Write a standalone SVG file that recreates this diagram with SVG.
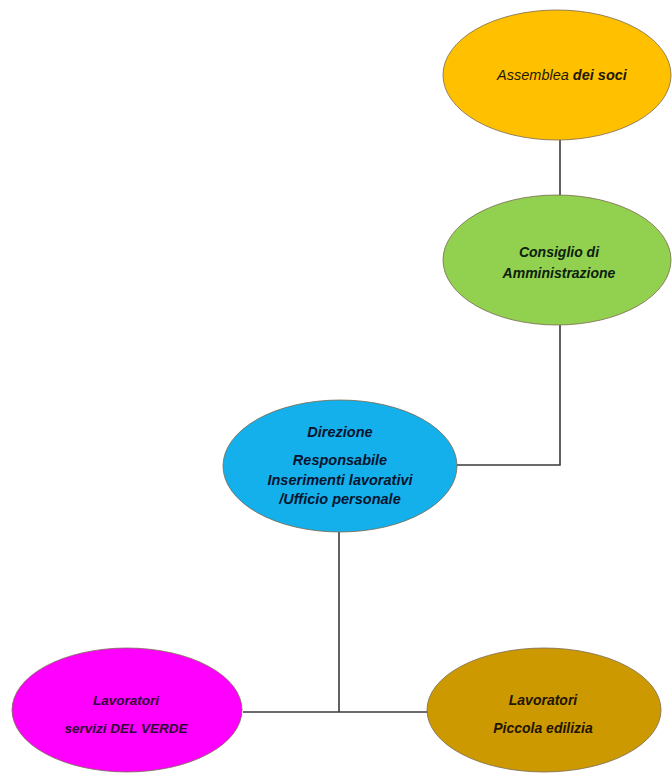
<svg xmlns="http://www.w3.org/2000/svg" width="672" height="773" viewBox="0 0 672 773">
<style>
.node{stroke:#7a6a50;stroke-width:0.8}
.t{font-family:"Liberation Sans",Arial,sans-serif;font-style:italic;font-weight:bold;text-anchor:middle}
.conn{fill:none;stroke:#3a3a3a;stroke-width:1.6}
</style>
<rect width="672" height="773" fill="#ffffff"/>
<g id="connectors">
<path class="conn" d="M560,140 V196"/>
<path class="conn" d="M560,325 V465 H457"/>
<path class="conn" d="M339,532 V712"/>
<path class="conn" d="M243,712 H428"/>
</g>
<g id="assemblea">
<ellipse class="node" cx="557" cy="75" rx="114" ry="65" fill="#FFC000"/>
<text class="t" x="562" y="80" font-size="14.5" fill="#1e1800"><tspan font-weight="normal">Assemblea</tspan> dei soci</text>
</g>
<g id="consiglio">
<ellipse class="node" cx="557" cy="260" rx="114" ry="65" fill="#92D050"/>
<text class="t" x="559" y="257" font-size="14" fill="#0c200c">Consiglio di</text>
<text class="t" x="559" y="278" font-size="14" fill="#0c200c">Amministrazione</text>
</g>
<g id="direzione">
<ellipse class="node" cx="340" cy="466" rx="117" ry="66" fill="#14B0EC"/>
<text class="t" x="340" y="437" font-size="14.5" fill="#08142e">Direzione</text>
<text class="t" x="340" y="465" font-size="14.5" fill="#08142e">Responsabile</text>
<text class="t" x="340" y="485" font-size="14.5" fill="#08142e">Inserimenti lavorativi</text>
<text class="t" x="340" y="504" font-size="14.5" fill="#08142e">/Ufficio personale</text>
</g>
<g id="verde">
<ellipse class="node" cx="127" cy="710" rx="115" ry="62" fill="#FF00FF"/>
<text class="t" x="126" y="705" font-size="13.5" fill="#300838">Lavoratori</text>
<text class="t" x="126" y="733" font-size="13.5" fill="#300838">servizi DEL VERDE</text>
</g>
<g id="edilizia">
<ellipse class="node" cx="544" cy="710" rx="117" ry="62" fill="#CC9900"/>
<text class="t" x="543" y="705" font-size="14" fill="#221400">Lavoratori</text>
<text class="t" x="543" y="733" font-size="14" fill="#221400">Piccola edilizia</text>
</g>
</svg>
